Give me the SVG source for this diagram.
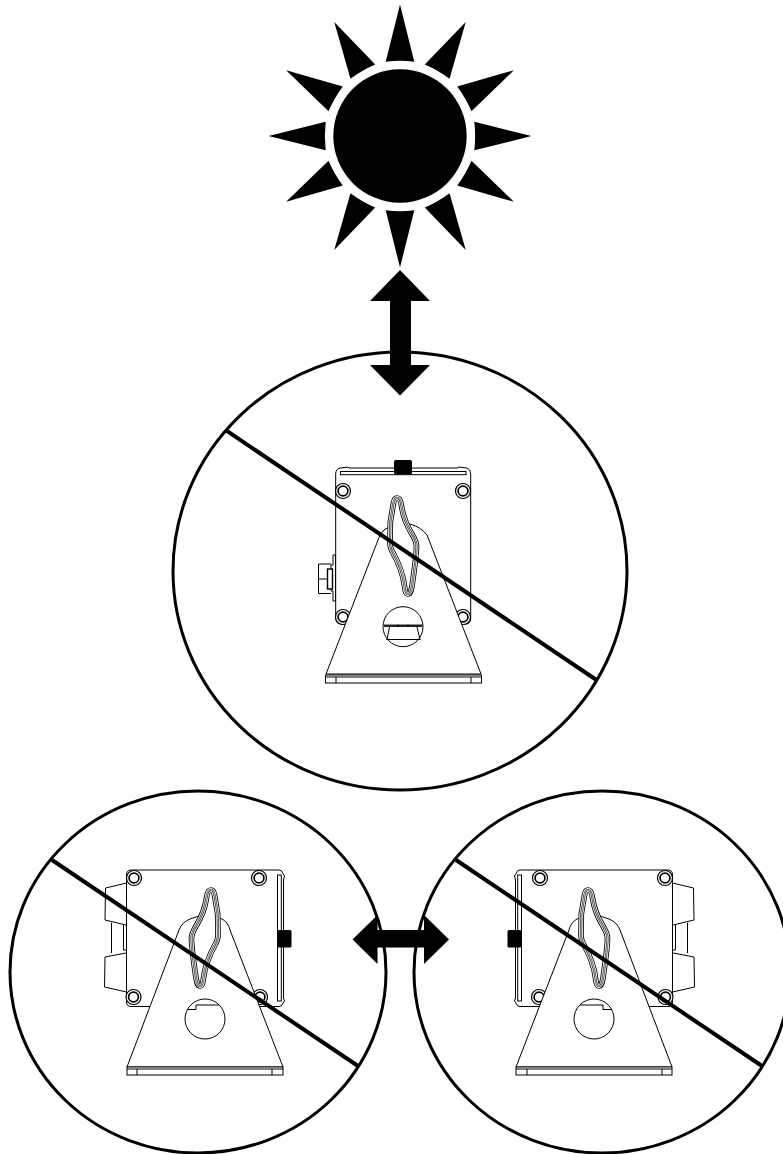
<svg xmlns="http://www.w3.org/2000/svg" width="783" height="1154" viewBox="0 0 783 1154">
<style>
.ln{fill:none;stroke:#000;stroke-width:1}
.wf{fill:#fff;stroke:#000;stroke-width:1}
.big{fill:none;stroke:#000;stroke-width:3}
.bar{fill:none;stroke:#000;stroke-width:4}
.k{fill:#000;stroke:none}
.d1{fill:#fff;stroke:#000;stroke-width:5.6;stroke-linejoin:round}
.d2{fill:none;stroke:#fff;stroke-width:3.9;stroke-linejoin:round}
.d3{fill:none;stroke:#333;stroke-width:2.2;stroke-linejoin:round}
.d4{fill:none;stroke:#fff;stroke-width:.7;stroke-linejoin:round}
</style>
<defs>
<path id="ray" d="M400 4.500L414.300 61.700Q400 60 385.700 61.700Z" class="k"/>
<g id="screw"><circle r="7.500" fill="#fff" stroke="#000" stroke-width="1.200"/><circle r="4.900" fill="#fff" stroke="#000" stroke-width="1.700"/></g>
<path id="dia" d="M397 498C394.500 498 394 500 393.500 503L390.300 522L390 544C390 547 391 549 392 551C397 560 403 572 404.500 586C405 592 406 594 408 594C410 594 411 592 412 586C414 572 416.500 556 416.500 546C416.500 541 414 538 412 534C407 526 403 516 401.500 506C401 502 400 498 397 498Z"/>
<g id="side">
<path class="wf" d="M126.500 875Q126.500 870 131 870L279 870Q282 870 282.500 873L284.500 876L283.500 880L283.500 998L284.500 1001L282.500 1004Q282 1006.500 279 1006.500L131 1006.500Q126.500 1006.500 126.500 1002Z"/>
<path class="ln" d="M126.500 883L105.500 888L105 920L126 925M126 953L105 957L104.500 987L126.500 992M111.500 922.700L111.500 953M123.500 925V950H126.500"/>
<rect x="277.500" y="875" width="3.800" height="126" class="wf"/>
<rect x="277.500" y="930" width="14" height="17.500" rx="1.500" class="k"/>
<use href="#screw" x="134" y="878"/><use href="#screw" x="259" y="878"/><use href="#screw" x="133.500" y="997"/><use href="#screw" x="260" y="997"/>
<path class="wf" d="M127 1067L179 930Q182 922 190 919Q198 915.500 205 915.500Q214 915.500 222 919Q228 922 230 930L283 1067Z"/>
<g transform="translate(608 392) scale(-1 1)"><use href="#dia" class="d1"/><use href="#dia" class="d2"/><use href="#dia" class="d3"/><use href="#dia" class="d4"/></g>
<circle cx="205" cy="1019" r="20" class="wf"/>
<path class="ln" d="M196 1005L219 1005M196 1005L196 1009.500L187 1009.500"/>
<rect x="127" y="1067" width="156" height="8" class="wf"/>
<path class="ln" d="M127 1069L283 1069M137 1069L137 1075M272 1069L272 1075"/>
</g>
</defs>
<g id="sun">
<circle cx="400" cy="136" r="66.700" class="k"/>
<use href="#ray"/>
<use href="#ray" transform="rotate(30 400 136)"/><use href="#ray" transform="rotate(60 400 136)"/><use href="#ray" transform="rotate(90 400 136)"/><use href="#ray" transform="rotate(120 400 136)"/><use href="#ray" transform="rotate(150 400 136)"/><use href="#ray" transform="rotate(180 400 136)"/><use href="#ray" transform="rotate(210 400 136)"/><use href="#ray" transform="rotate(240 400 136)"/><use href="#ray" transform="rotate(270 400 136)"/><use href="#ray" transform="rotate(300 400 136)"/><use href="#ray" transform="rotate(330 400 136)"/>
</g>
<g id="view-top">
<ellipse cx="400" cy="571" rx="227" ry="219" class="big"/>
<path class="wf" d="M335.700 474Q335.700 469 340 468L345 467.500L348 467L349 468L457 468L459 467L462 467.500L467 468Q470.700 469 470.700 474L470.700 618Q470.700 624 466 624L341 624Q335.700 624 335.700 618Z"/>
<rect x="340.500" y="471.500" width="125.500" height="3.200" class="wf"/>
<rect x="394" y="460" width="18" height="14.500" rx="2" class="k"/>
<path class="ln" d="M318.500 564H331M318.500 579H327M318.500 593.500H331M318.500 564V593.500"/>
<path class="wf" d="M331 565H333V555H335.500V601H333V591H331Z"/>
<rect x="327.500" y="569" width="5" height="20" fill="#fff" stroke="#000" stroke-width="1.400"/>
<use href="#screw" x="343" y="491"/><use href="#screw" x="463" y="491"/><use href="#screw" x="343" y="617"/><use href="#screw" x="463" y="617"/>
<path class="wf" d="M326 674L380 535Q383 529 390 526.500Q400 522.500 410 524Q421 527 427 535L481 674Z"/>
<use href="#dia" class="d1"/><use href="#dia" class="d2"/><use href="#dia" class="d3"/><use href="#dia" class="d4"/>
<circle cx="403" cy="626.700" r="20" class="wf"/>
<path d="M384 625.700H422.500" fill="none" stroke="#222" stroke-width="2.400"/>
<path class="ln" d="M389.500 627L387 639.500M417 627L420 639.500M386.500 639.500H420.500M398 624.500V627M408 624.500V627"/>
<rect x="325.500" y="675" width="156" height="8" class="wf"/>
<path class="ln" d="M325.500 677H481.500M336 677V683M471 677V683"/>
<path class="bar" d="M226.500 430.700L596.500 680"/>
</g>
<g id="view-left">
<ellipse cx="198" cy="972" rx="188" ry="181" class="big"/>
<use href="#side"/>
<path class="bar" d="M52 860L358 1066"/>
</g>
<g id="view-right">
<ellipse cx="602" cy="972" rx="188" ry="181" class="big"/>
<use href="#side" transform="translate(799 0) scale(-1 1)"/>
<path class="bar" d="M456 860L762 1066"/>
</g>
<g id="connectors">
<path class="k" d="M400 270L430 301H411V365H430L400 395.500L370 365H390V301H370Z"/>
<path class="k" d="M352.500 939.500L377.500 915V930H424V915L449 939.500L424 964V947.500H377.500V964Z"/>
</g>
</svg>
